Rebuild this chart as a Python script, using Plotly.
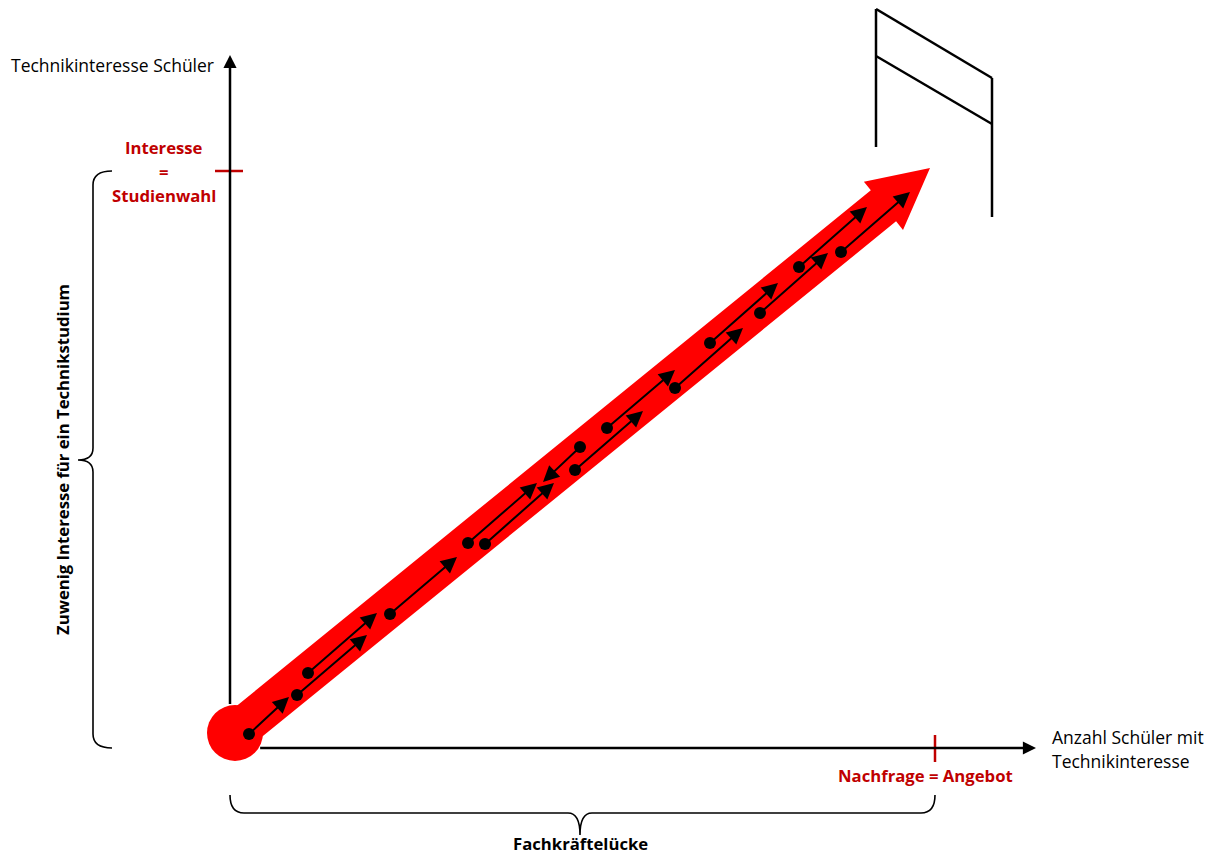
import numpy as np
import plotly.graph_objects as go

# ---------------- canvas ----------------
W, H = 1213, 864
PAD = 8  # default body margin of the html page

RED_TXT = "#C00000"
RED = "#FF0000"
FONT = "Open Sans"

# ---------------- data (diagram coordinates) ----------------
axis_origin = (230, 748)
y_axis_end = (230, 55)
x_axis_end = (1036, 748)

y_tick_level = 171          # "Interesse = Studienwahl"
x_tick_level = 935          # "Nachfrage = Angebot"

# big red arrow
big_start = (235, 733)
big_tip = (930, 168)
big_radius = 28
band_half = 20
head_half = 31
head_len = 60

# small black arrows (dot = start, tip = arrow end)
dot_x = [249, 297, 308, 390, 468, 485, 580, 575, 607, 675, 710, 760, 799, 841]
dot_y = [734, 695, 673, 614, 543, 544, 447, 470, 428, 388, 343, 313, 267, 252]
tip_x = [289, 367, 377, 457, 537, 554, 543, 643, 675, 743, 778, 828, 867, 910]
tip_y = [697, 635, 613, 557, 483, 483, 482, 411, 370, 328, 283, 253, 207, 192]

# hurdle (goal) in the top right
hurdle_x = [876, 876, None, 992, 992, None, 876, 992, None, 876, 992]
hurdle_y = [9, 147, None, 78, 217, None, 9, 78, None, 56, 124]

# braces
left_brace = dict(x_end=112, x_line=93, x_tip=78, y_top=171, y_bot=748, y_mid=460)
bottom_brace = dict(y_end=795, y_line=813, y_tip=835, x_left=230, x_right=935, x_mid=580)

fig = go.Figure()

# ---------------- axes (the red circle covers them near the origin) ----------------
S = np.array(big_start, float)
ox, oy = axis_origin
# where the axes leave the red circle
y_axis_start = oy if abs(ox - S[0]) >= big_radius else S[1] - np.sqrt(big_radius**2 - (ox - S[0])**2)
x_axis_start = ox if abs(oy - S[1]) >= big_radius else S[0] + np.sqrt(big_radius**2 - (oy - S[1])**2)

fig.add_annotation(x=y_axis_end[0], y=y_axis_end[1], ax=ox, ay=float(y_axis_start),
                   xref="x", yref="y", axref="x", ayref="y", text="",
                   showarrow=True, arrowhead=2, arrowsize=1.05, arrowwidth=2.5,
                   arrowcolor="black", standoff=0)
fig.add_annotation(x=x_axis_end[0], y=x_axis_end[1], ax=float(x_axis_start), ay=oy,
                   xref="x", yref="y", axref="x", ayref="y", text="",
                   showarrow=True, arrowhead=2, arrowsize=1.05, arrowwidth=2.5,
                   arrowcolor="black", standoff=0)

# ---------------- big red arrow ----------------
T = np.array(big_tip, float)
u = (T - S) / np.linalg.norm(T - S)
n = np.array([-u[1], u[0]])
B = T - head_len * u
poly = [S + band_half * n, B + band_half * n, B + head_half * n, T,
        B - head_half * n, B - band_half * n, S - band_half * n, S + band_half * n]
fig.add_trace(go.Scatter(x=[p[0] for p in poly], y=[p[1] for p in poly],
                         fill="toself", fillcolor=RED, mode="lines",
                         line=dict(width=0, color=RED), hoverinfo="skip"))
fig.add_shape(type="circle", xref="x", yref="y",
              x0=S[0] - big_radius, x1=S[0] + big_radius,
              y0=S[1] - big_radius, y1=S[1] + big_radius,
              fillcolor=RED, line=dict(width=0), layer="below")

# ---------------- hurdle ----------------
fig.add_trace(go.Scatter(x=hurdle_x, y=hurdle_y, mode="lines",
                         line=dict(color="black", width=2.5), hoverinfo="skip"))

# ---------------- dots ----------------
fig.add_trace(go.Scatter(x=dot_x, y=dot_y, mode="markers",
                         marker=dict(size=12, color="black"), hoverinfo="skip"))

# ---------------- small arrows ----------------
for x0, y0, x1, y1 in zip(dot_x, dot_y, tip_x, tip_y):
    fig.add_annotation(x=x1, y=y1, ax=x0, ay=y0, xref="x", yref="y",
                       axref="x", ayref="y", text="", showarrow=True,
                       arrowhead=2, arrowsize=1.6, arrowwidth=2,
                       arrowcolor="black", standoff=0, startstandoff=0)

# red ticks
fig.add_shape(type="line", xref="x", yref="y", x0=215, x1=243,
              y0=y_tick_level, y1=y_tick_level, line=dict(color=RED_TXT, width=2.5))
fig.add_shape(type="line", xref="x", yref="y", x0=x_tick_level, x1=x_tick_level,
              y0=735, y1=762, line=dict(color=RED_TXT, width=2.5))

# ---------------- braces ----------------
lb = left_brace
path_l = (f"M {lb['x_end']},{lb['y_top']} Q {lb['x_line']},{lb['y_top']} {lb['x_line']},{lb['y_top']+14} "
          f"L {lb['x_line']},{lb['y_mid']-12} Q {lb['x_line']},{lb['y_mid']} {lb['x_tip']},{lb['y_mid']} "
          f"Q {lb['x_line']},{lb['y_mid']} {lb['x_line']},{lb['y_mid']+12} "
          f"L {lb['x_line']},{lb['y_bot']-14} Q {lb['x_line']},{lb['y_bot']} {lb['x_end']},{lb['y_bot']}")
fig.add_shape(type="path", path=path_l, xref="x", yref="y",
              line=dict(color="black", width=1.6))
bb = bottom_brace
path_b = (f"M {bb['x_left']},{bb['y_end']} Q {bb['x_left']},{bb['y_line']} {bb['x_left']+14},{bb['y_line']} "
          f"L {bb['x_mid']-12},{bb['y_line']} Q {bb['x_mid']},{bb['y_line']} {bb['x_mid']},{bb['y_tip']} "
          f"Q {bb['x_mid']},{bb['y_line']} {bb['x_mid']+12},{bb['y_line']} "
          f"L {bb['x_right']-14},{bb['y_line']} Q {bb['x_right']},{bb['y_line']} {bb['x_right']},{bb['y_end']}")
fig.add_shape(type="path", path=path_b, xref="x", yref="y",
              line=dict(color="black", width=1.6))

# ---------------- texts ----------------
REG = 17.5
BOLD = 16.7


def txt(x, y, s, color="black", bold=False, anchor="center", size=REG, angle=0, yanchor="middle"):
    fig.add_annotation(x=x, y=y, xref="x", yref="y", text=f"<b>{s}</b>" if bold else s,
                       showarrow=False, xanchor=anchor, yanchor=yanchor, textangle=angle,
                       borderpad=0, font=dict(family=FONT, size=size, color=color))


txt(10, 65, "Technikinteresse Schüler", anchor="left")
txt(164, 147, "Interesse", RED_TXT, True, size=BOLD)
txt(164, 171, "=", RED_TXT, True, size=BOLD)
txt(164, 195, "Studienwahl", RED_TXT, True, size=BOLD)
txt(1051, 737, "Anzahl Schüler mit", anchor="left")
txt(1051, 761, "Technikinteresse", anchor="left")
txt(925, 775, "Nachfrage = Angebot", RED_TXT, True, size=BOLD)
txt(580, 856, "Fachkräftelücke", bold=True, size=BOLD, yanchor="bottom")
txt(62, 460, "Zuwenig Interesse für ein Technikstudium", bold=True, size=BOLD, angle=-90)

fig.update_layout(
    width=W - 2 * PAD, height=H - 2 * PAD, autosize=False,
    margin=dict(l=0, r=0, t=0, b=0, pad=0),
    paper_bgcolor="white", plot_bgcolor="white", showlegend=False,
    xaxis=dict(range=[PAD, W - PAD], visible=False, fixedrange=True),
    yaxis=dict(range=[H - PAD, PAD], visible=False, fixedrange=True),
)

fig.write_html("out.html")
